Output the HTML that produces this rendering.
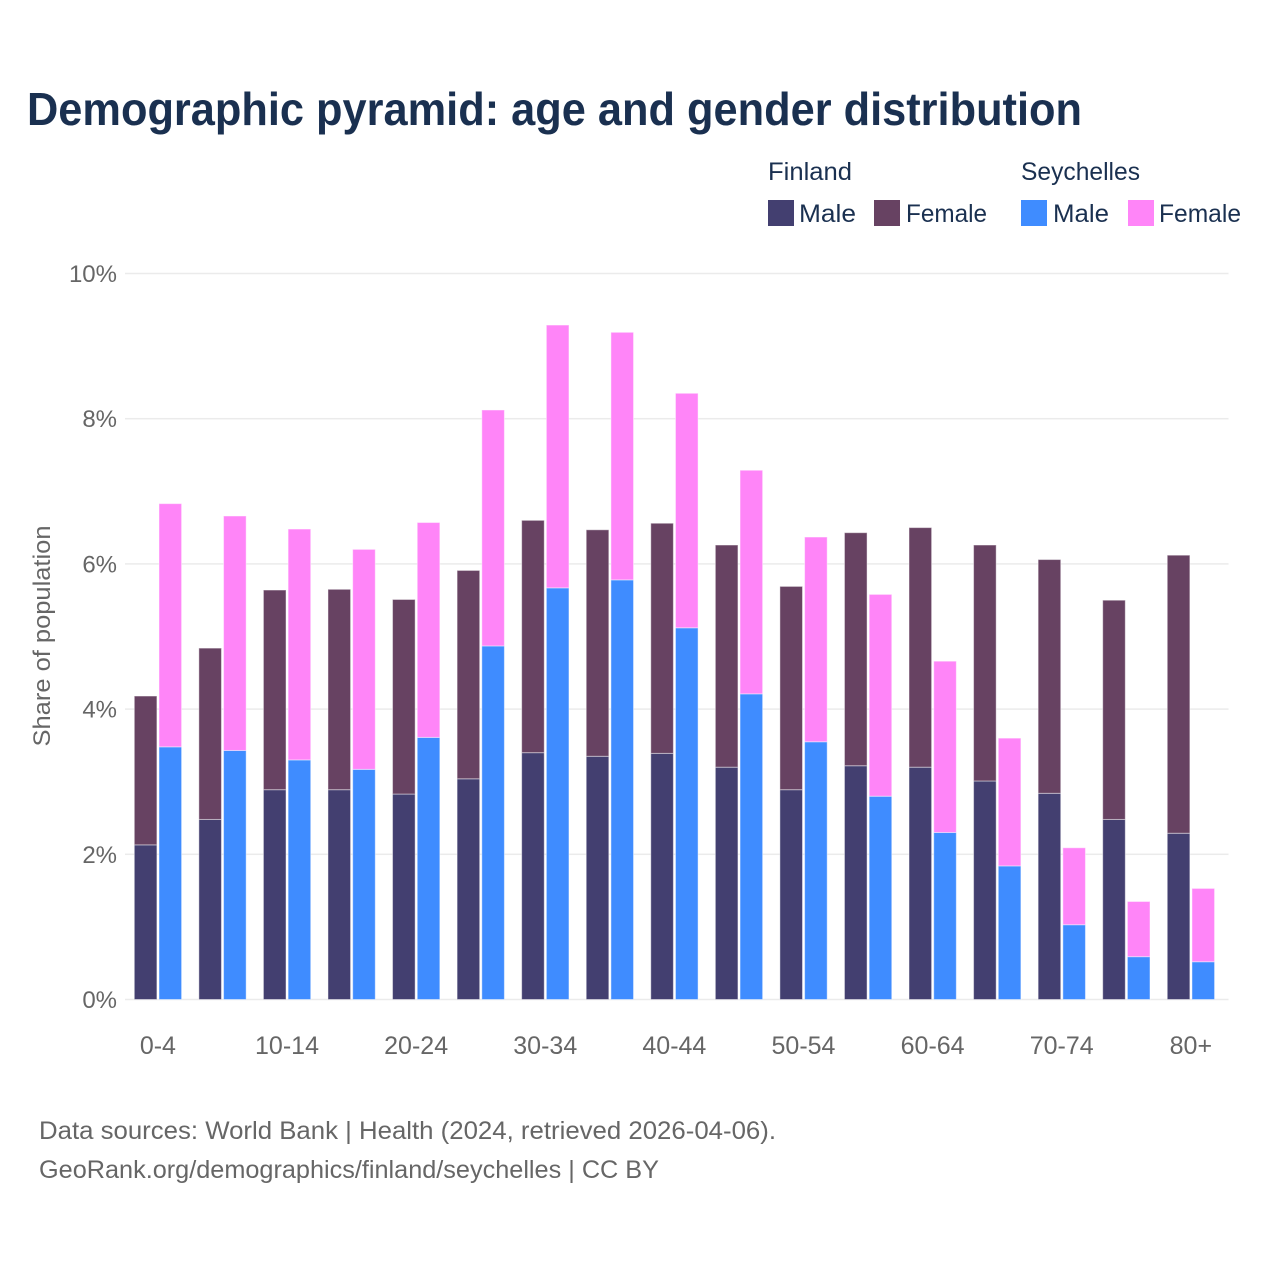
<!DOCTYPE html>
<html lang="en">
<head>
<meta charset="utf-8">
<title>Demographic pyramid: age and gender distribution</title>
<style>
html,body{margin:0;padding:0;background:#fff;width:1280px;height:1280px;overflow:hidden}
svg{display:block;font-family:"Liberation Sans",sans-serif}
</style>
</head>
<body>
<svg id="chart" width="1280" height="1280" viewBox="0 0 1280 1280" xmlns="http://www.w3.org/2000/svg">
  <rect width="1280" height="1280" fill="#ffffff"/>
  <text x="27" y="125" font-size="46" font-weight="700" fill="#1a3050" textLength="1055" lengthAdjust="spacingAndGlyphs">Demographic pyramid: age and gender distribution</text>

  <g font-size="25" fill="#1a3050">
    <text x="768" y="180" textLength="84" lengthAdjust="spacingAndGlyphs">Finland</text>
    <text x="1021" y="180" textLength="119" lengthAdjust="spacingAndGlyphs">Seychelles</text>
    <rect x="768" y="200" width="26" height="26" fill="#433f70"/>
    <text x="799" y="222" textLength="57" lengthAdjust="spacingAndGlyphs">Male</text>
    <rect x="874" y="200" width="26" height="26" fill="#674262"/>
    <text x="906" y="222" textLength="81" lengthAdjust="spacingAndGlyphs">Female</text>
    <rect x="1021" y="200" width="26" height="26" fill="#3f8cff"/>
    <text x="1053" y="222" textLength="56" lengthAdjust="spacingAndGlyphs">Male</text>
    <rect x="1128" y="200" width="26" height="26" fill="#ff85f8"/>
    <text x="1159" y="222" textLength="82" lengthAdjust="spacingAndGlyphs">Female</text>
  </g>

  <text transform="translate(50,636) rotate(-90)" text-anchor="middle" font-size="24" fill="#666666" textLength="221" lengthAdjust="spacingAndGlyphs">Share of population</text>

  <g id="grid"></g>
  <g id="yticks"></g>
  <g id="bars"></g>
  <g id="xticks"></g>

  <g font-size="25" fill="#666666">
    <text x="39" y="1139" textLength="737" lengthAdjust="spacingAndGlyphs">Data sources: World Bank | Health (2024, retrieved 2026-04-06).</text>
    <text x="39" y="1178" textLength="620" lengthAdjust="spacingAndGlyphs">GeoRank.org/demographics/finland/seychelles | CC BY</text>
  </g>
</svg>
<script>
const ageGroups = ["0-4","5-9","10-14","15-19","20-24","25-29","30-34","35-39","40-44","45-49","50-54","55-59","60-64","65-69","70-74","75-79","80+"];
const xTickLabels = ["0-4","","10-14","","20-24","","30-34","","40-44","","50-54","","60-64","","70-74","","80+"];
const yTickValues = [0,2,4,6,8,10];
const finlandMale = [2.13,2.48,2.89,2.89,2.83,3.04,3.40,3.35,3.39,3.20,2.89,3.22,3.20,3.01,2.84,2.48,2.29];
const finlandFemale = [2.05,2.36,2.75,2.76,2.68,2.87,3.20,3.12,3.17,3.06,2.80,3.21,3.30,3.25,3.22,3.02,3.83];
const seychellesMale = [3.48,3.43,3.30,3.17,3.61,4.87,5.67,5.78,5.12,4.21,3.55,2.80,2.30,1.84,1.03,0.59,0.52];
const seychellesFemale = [3.35,3.23,3.18,3.03,2.96,3.25,3.62,3.41,3.23,3.08,2.82,2.78,2.36,1.76,1.06,0.76,1.01];

const NS = "http://www.w3.org/2000/svg";
function yScale(v){ return 999.5 - v * 72.6; }
function xScale(i){ return 134.3 + i * 64.56; }
function make(tag, attrs, parent){
  const el = document.createElementNS(NS, tag);
  for (const k in attrs) el.setAttribute(k, attrs[k]);
  parent.appendChild(el);
  return el;
}
const gridG = document.getElementById("grid");
const yG = document.getElementById("yticks");
const xG = document.getElementById("xticks");
const barsG = document.getElementById("bars");

yTickValues.forEach(function(v){
  const line = make("rect", {x:125, y:yScale(v)-0.75, width:1103.5, height:1.5, fill:"#ebebeb"}, gridG);
  
  
  const label = make("text", {x:117, y:yScale(v)+8.5, "text-anchor":"end", "font-size":24, fill:"#666666"}, yG);
  
  
  label.textContent = v + "%";
});

function drawBar(x, base, val, color, name){
  const y0 = yScale(base), y1 = yScale(base + val);
  const r = make("rect", {x:x, y:y1, width:22.6, height:y0-y1, fill:color, stroke:"#ffffff", "stroke-opacity":0.45, "stroke-width":1}, barsG);
  
  
}
ageGroups.forEach(function(g, i){
  const x = xScale(i);
  drawBar(x, 0, finlandMale[i], "#433f70", "bar-finland-male-" + g);
  drawBar(x, finlandMale[i], finlandFemale[i], "#674262", "bar-finland-female-" + g);
  drawBar(x + 24.7, 0, seychellesMale[i], "#3f8cff", "bar-seychelles-male-" + g);
  drawBar(x + 24.7, seychellesMale[i], seychellesFemale[i], "#ff85f8", "bar-seychelles-female-" + g);
  if (xTickLabels[i]) {
    const t = make("text", {x:x + 23.6, y:1054, "text-anchor":"middle", "font-size":25, fill:"#666666"}, xG);
    
    
    t.textContent = xTickLabels[i];
  }
});
</script>
</body>
</html>
